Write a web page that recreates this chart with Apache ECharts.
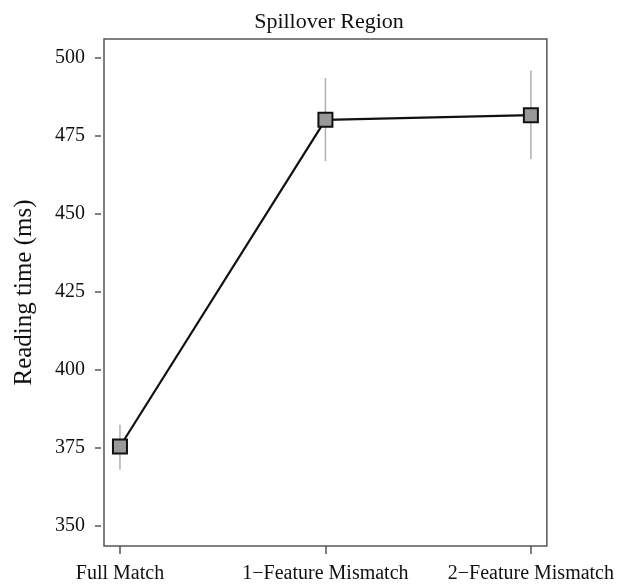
<!DOCTYPE html>
<html>
<head>
<meta charset="utf-8">
<script src="https://cdn.jsdelivr.net/npm/echarts@6/dist/echarts.min.js"></script>
<style>html,body{margin:0;padding:0;background:#fff;}#c{width:617px;height:584px;}</style>
</head>
<body>
<div id="c"></div>
<script>
var categories = ['Full Match', '1\u2212Feature Mismatch', '2\u2212Feature Mismatch'];
var means = [375.5, 480.2, 481.7];
var lower = [368.0, 467.0, 467.6];
var upper = [382.5, 493.6, 496.0];
var yTicks = [350, 375, 400, 425, 450, 475, 500];

var FONT = '"Liberation Serif", "DejaVu Serif", serif';
var chart = echarts.init(document.getElementById('c'), null, {renderer: 'canvas'});
var idx = categories.map(function (_, i) { return i; });
var lineData = means.map(function (m, i) { return [i, m]; });
var errData = means.map(function (m, i) { return [i, lower[i], upper[i]]; });

chart.setOption({
  backgroundColor: '#fff',
  animation: false,
  title: {
    text: 'Spillover Region',
    left: 324, top: 6, textAlign: 'center',
    textStyle: {fontFamily: FONT, fontSize: 22, fontWeight: 'normal', color: '#111'}
  },
  grid: {left: 104, right: 69, top: 39, bottom: 38, show: true, borderColor: '#555', borderWidth: 1.5, backgroundColor: 'transparent'},
  xAxis: {
    type: 'value', min: -0.0777, max: 2.0777,
    splitLine: {show: false},
    axisLine: {show: false, onZero: false},
    axisTick: {show: true, length: 8, customValues: idx, lineStyle: {color: '#555', width: 1.5}},
    axisLabel: {customValues: idx, margin: 18, fontFamily: FONT, fontSize: 20, color: '#111',
      formatter: function (v) { return categories[Math.round(v)]; }}
  },
  yAxis: {
    type: 'value', min: 343.6, max: 506.1, offset: 3,
    name: 'Reading time (ms)', nameLocation: 'middle', nameGap: 64,
    nameTextStyle: {fontFamily: FONT, fontSize: 25, color: '#111'},
    splitLine: {show: false},
    axisLine: {show: false, onZero: false},
    axisTick: {show: true, length: 6, customValues: yTicks, lineStyle: {color: '#555', width: 1.5}},
    axisLabel: {customValues: yTicks, margin: 16, fontFamily: FONT, fontSize: 20, color: '#111'}
  },
  series: [
    {
      type: 'custom', z: 1,
      data: errData,
      renderItem: function (params, api) {
        var x = api.value(0);
        var lo = api.coord([x, api.value(1)]);
        var hi = api.coord([x, api.value(2)]);
        return {type: 'line', shape: {x1: lo[0], y1: lo[1], x2: hi[0], y2: hi[1]},
          style: {stroke: '#b0b0b0', lineWidth: 1.5}};
      }
    },
    {
      type: 'line', z: 3,
      data: lineData,
      symbol: 'rect', symbolSize: 14,
      lineStyle: {color: '#111', width: 2.2},
      itemStyle: {color: '#999', borderColor: '#111', borderWidth: 2}
    }
  ]
});
</script>
</body>
</html>
